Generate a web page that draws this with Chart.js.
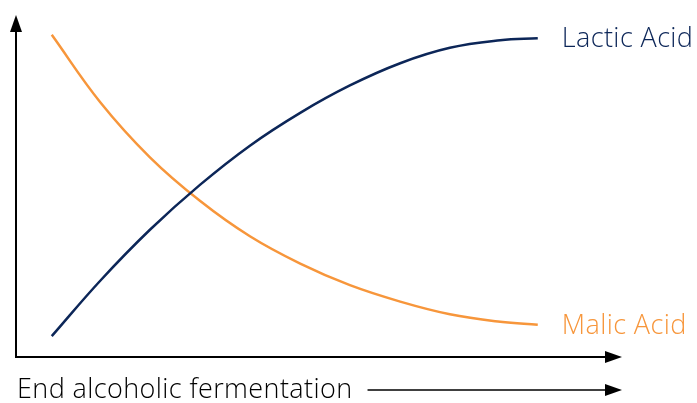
<!DOCTYPE html>
<html>
<head>
<meta charset="utf-8">
<script src="https://cdn.jsdelivr.net/npm/chart.js@4.4.0/dist/chart.umd.min.js"></script>
<style>
  html, body { margin: 0; padding: 0; background: #fff; }
  #wrap { width: 697px; height: 403px; }
</style>
</head>
<body>
<div id="wrap"><canvas id="myChart"></canvas></div>
<script>
// time axis (arbitrary units) and relative concentrations
const times = [5.9, 13.9, 22.1, 30.4, 38.6, 46.9, 55.1, 63.4, 71.6, 79.9, 86.1];
const lacticAcid = [6.1, 22.3, 37.2, 50.4, 61.8, 71.4, 79.4, 85.9, 90.4, 92.6, 93.2];
const malicAcid = [94.2, 74.5, 58.4, 45.6, 35.3, 27.3, 21.0, 16.2, 12.5, 10.3, 9.4];
const seriesNames = ["Lactic Acid", "Malic Acid"];
const seriesColors = ["#0c2658", "#f7963b"];
const xAxisLabel = "End alcoholic fermentation";

const FONT = "'Open Sans', 'Noto Sans', sans-serif";

function toPoints(values) {
  return values.map((v, i) => ({ x: times[i], y: v }));
}

function arrowHead(c, x, y, dir) {
  c.beginPath();
  if (dir === "up") {
    c.moveTo(x, y);
    c.lineTo(x - 6, y + 17);
    c.lineTo(x + 6, y + 17);
  } else {
    c.moveTo(x, y);
    c.lineTo(x - 17, y - 6);
    c.lineTo(x - 17, y + 6);
  }
  c.closePath();
  c.fill();
}

const decorations = {
  id: "decorations",
  afterDatasetsDraw(chart) {
    const c = chart.ctx;
    const a = chart.chartArea;
    c.save();
    c.strokeStyle = "#000";
    c.fillStyle = "#000";
    c.lineWidth = 2;
    // axes
    c.beginPath();
    c.moveTo(a.left, a.top + 10);
    c.lineTo(a.left, a.bottom);
    c.lineTo(a.right - 10, a.bottom);
    c.stroke();
    arrowHead(c, a.left, a.top, "up");
    arrowHead(c, a.right, a.bottom, "right");

    // series labels at line ends
    c.font = "300 27px " + FONT;
    c.letterSpacing = "0.4px";
    c.textBaseline = "middle";
    c.textAlign = "left";
    chart.data.datasets.forEach((ds, i) => {
      const meta = chart.getDatasetMeta(i);
      const last = meta.data[meta.data.length - 1];
      c.fillStyle = ds.borderColor;
      c.fillText(ds.label, last.x + 24, last.y + 1);
    });

    // x axis caption with arrow
    c.fillStyle = "#000";
    const ty = a.bottom + 33;
    c.fillText(xAxisLabel, a.left + 1, ty);
    const w = c.measureText(xAxisLabel).width;
    c.lineWidth = 1.5;
    c.beginPath();
    c.moveTo(a.left + w + 16, ty);
    c.lineTo(a.right - 10, ty);
    c.stroke();
    arrowHead(c, a.right, ty, "right");
    c.restore();
  }
};

new Chart(document.getElementById("myChart"), {
  type: "line",
  data: {
    datasets: [
      {
        label: seriesNames[0],
        data: toPoints(lacticAcid),
        borderColor: seriesColors[0],
        borderWidth: 2.5,
        pointRadius: 0,
        tension: 0.4
      },
      {
        label: seriesNames[1],
        data: toPoints(malicAcid),
        borderColor: seriesColors[1],
        borderWidth: 2.5,
        pointRadius: 0,
        tension: 0.4
      }
    ]
  },
  options: {
    responsive: true,
    maintainAspectRatio: false,
    animation: false,
    layout: { padding: { left: 16, top: 15, right: 75, bottom: 46 } },
    scales: {
      x: { type: "linear", display: false, min: 0, max: 100 },
      y: { display: false, min: 0, max: 100 }
    },
    plugins: {
      legend: { display: false },
      tooltip: { enabled: false }
    }
  },
  plugins: [decorations]
});
</script>
</body>
</html>
